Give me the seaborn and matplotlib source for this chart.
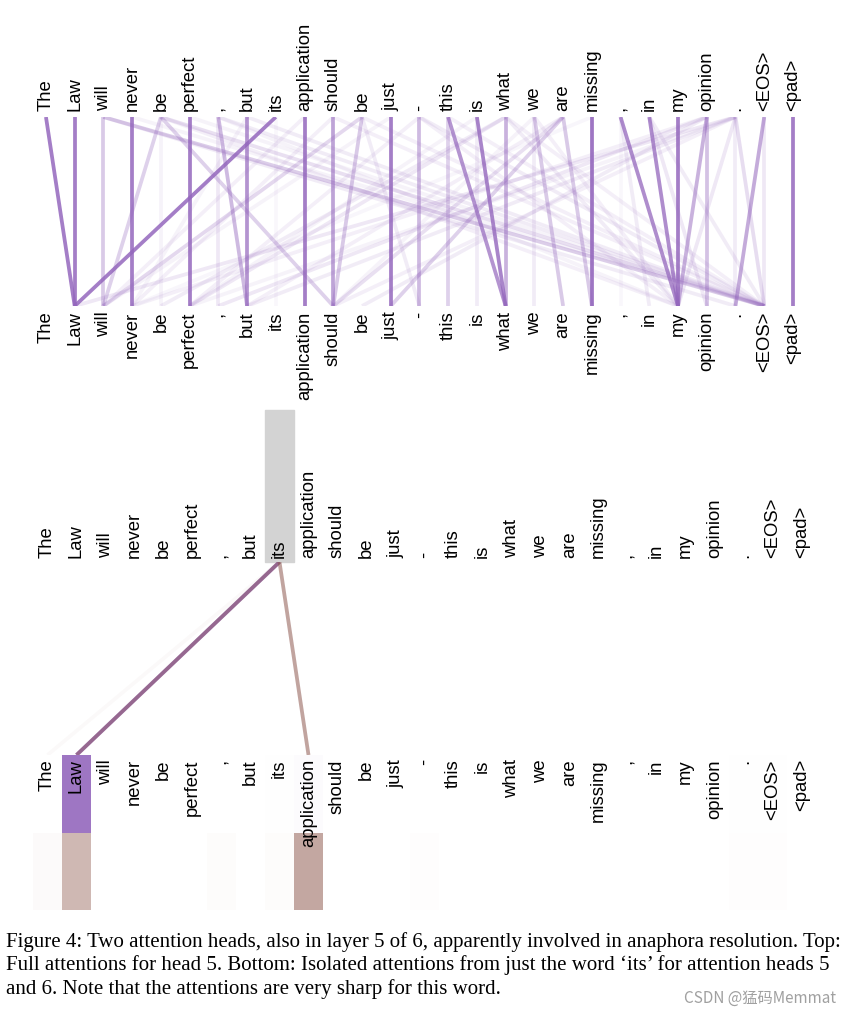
import numpy as np
import seaborn as sns
import matplotlib.pyplot as plt
from matplotlib.colors import LinearSegmentedColormap
from matplotlib.patches import Rectangle

tokens = ["The", "Law", "will", "never", "be", "perfect", ",", "but", "its",
          "application", "should", "be", "just", "-", "this", "is", "what",
          "we", "are", "missing", ",", "in", "my", "opinion", ".", "<EOS>",
          "<pad>"]

# head 5, full attentions (top panel): query -> key, weight
head5_src = [0, 1, 2, 2, 2, 3, 3, 4, 4, 4, 4, 4, 5, 5, 6, 6, 6, 6, 7, 7, 7,
             8, 8, 9, 9, 10, 10, 10, 11, 11, 11, 11, 12, 12, 13, 13, 13, 13,
             14, 14, 14, 15, 15, 15, 16, 16, 16, 16, 16, 17, 17, 17, 17,
             18, 18, 18, 18, 19, 19, 20, 20, 20, 21, 21, 21, 22, 23, 23, 23,
             23, 23, 24, 24, 24, 24, 24, 24, 24, 25, 25, 26]
head5_dst = [1, 1, 2, 25, 24, 3, 25, 2, 10, 25, 22, 4, 5, 25, 6, 7, 25, 22, 7,
             25, 3, 1, 8, 9, 2, 10, 3, 25, 10, 2, 13, 25, 12, 2, 13, 25, 22,
             5, 16, 14, 25, 16, 15, 5, 16, 5, 22, 25, 4, 18, 17, 10, 22,
             19, 12, 10, 7, 19, 3, 22, 21, 20, 22, 23, 25, 22, 22, 23, 6,
             3, 11, 24, 25, 22, 1, 7, 10, 5, 24, 25, 26]
head5_w = [.85, .85, .35, .32, .12, .85, .08, .3, .3, .2, .1, .08, .85, .08,
           .15, .45, .12, .08, .7, .12, .08, .85, .05, .85, .1, .6, .1, .1,
           .35, .25, .12, .1, .85, .08, .45, .12, .1, .1, .7, .3, .1, .8, .12,
           .08, .5, .15, .12, .1, .12, .35, .12, .08, .1, .35, .3, .2, .1,
           .9, .06, .75, .12, .05, .75, .15, .12, .85, .5, .4, .15, .1, .12,
           .12, .22, .15, .15, .12, .1, .08, .55, .15, .85]

# isolated attentions from the word 'its' (bottom panel), heads 5 and 6
query_idx = 8
its_head5 = [0.0, 0.9, 0, 0, 0, 0, 0, 0, 0.01, 0.03, 0, 0, 0, 0, 0, 0, 0, 0,
             0, 0, 0, 0, 0, 0, 0.01, 0.01, 0]
its_head6 = [0.03, 0.42, 0, 0, 0, 0, 0.02, 0, 0.02, 0.52, 0, 0, 0, 0.015,
             0, 0, 0, 0, 0, 0, 0, 0, 0, 0, 0.015, 0.015, 0]

caption = [
    "Figure 4: Two attention heads, also in layer 5 of 6, apparently involved in anaphora resolution. Top:",
    "Full attentions for head 5. Bottom: Isolated attentions from just the word \u2018its\u2019 for attention heads 5",
    "and 6. Note that the attentions are very sharp for this word.",
]

HEAD5 = '#9467bd'
HEAD6 = '#8c564b'
W, H = 851, 1016

sns.set_theme(style='white')
plt.rcParams['font.family'] = ['Liberation Sans', 'DejaVu Sans']

fig = plt.figure(figsize=(W / 100, H / 100), dpi=100)


def px_axes(left, top, width, height):
    return fig.add_axes([left / W, 1 - (top + height) / H, width / W, height / H])


def word_axes(ax, pad):
    n = len(tokens)
    ax.set_xlim(-0.5, n - 0.5)
    ax.set_ylim(1, 0)
    ax.set_xticks(range(n))
    ax.set_xticklabels(tokens)
    ax.set_yticks([])
    ax.tick_params(axis='x', length=0, pad=pad, labelsize=13.3, labelrotation=90,
                   labelcolor='black', top=False, bottom=False,
                   labeltop=True, labelbottom=True)
    for sp in ax.spines.values():
        sp.set_visible(False)
    ax.patch.set_alpha(0)


# top panel
ax_top = px_axes(31.6, 117, 27 * 28.73, 189)
word_axes(ax_top, 4)
for s, d, w in zip(head5_src, head5_dst, head5_w):
    ax_top.plot([s, d], [0, 1], color=HEAD5, alpha=w, lw=2.7,
                solid_capstyle='butt')

# bottom panel
ax_bot = px_axes(33, 562, 27 * 29, 193)
word_axes(ax_bot, 3)
ax_bot.set_zorder(2)
ax_bot.add_patch(Rectangle((query_idx - 0.5, 0), 1, -152 / 193,
                           color='#d3d3d3', clip_on=False, zorder=0))
for weights, col in [(its_head5, HEAD5), (its_head6, HEAD6)]:
    for j, w in enumerate(weights):
        if w > 0.025:
            ax_bot.plot([query_idx, j], [0, 1], color=col, alpha=w, lw=2.7,
                        solid_capstyle='butt')

for k, (weights, col) in enumerate([(its_head5, HEAD5), (its_head6, HEAD6)]):
    hm = px_axes(33, 755 + 78 * k, 27 * 29, 78 - k)
    hm.set_zorder(0)
    cmap = LinearSegmentedColormap.from_list('h%d' % k, ['white', col])
    sns.heatmap(np.array([weights]), ax=hm, cmap=cmap, vmin=0, vmax=1,
                cbar=False, xticklabels=False, yticklabels=False)

for i, line in enumerate(caption):
    fig.text(6 / W, 1 - (942 + 23.5 * i) / H, line, ha='left', va='center',
             family='Liberation Serif', fontsize=15, color='black')

fig.text(836 / W, 1 - 998 / H, 'CSDN @猛码Memmat', ha='right', va='center',
         family=['Noto Sans CJK SC', 'DejaVu Sans'], fontsize=11, color='#a0a0a0')

fig.savefig('out.png', dpi=100)
